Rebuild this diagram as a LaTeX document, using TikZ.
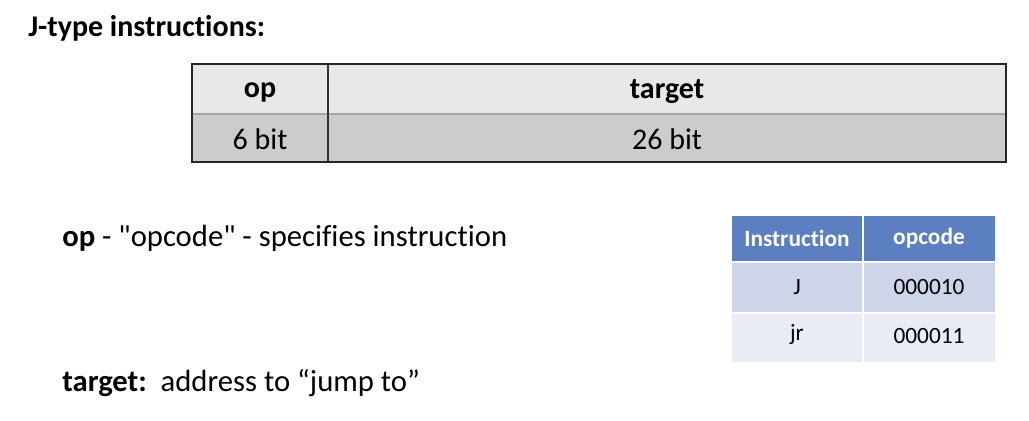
\documentclass[tikz,border=0pt]{standalone}
\usepackage{fontspec}
\setmainfont{Carlito}[Ligatures={NoCommon}]
\begin{document}
\begin{tikzpicture}[x=0.75pt,y=-0.75pt,
  cell/.style={inner sep=0pt, anchor=center},
  fmttop/.style={fill=gray!18},
  fmtbot/.style={fill=gray!40},
  hdr/.style={fill={rgb,255:red,91;green,127;blue,193}},
  rowa/.style={fill={rgb,255:red,207;green,213;blue,232}},
  rowb/.style={fill={rgb,255:red,233;green,235;blue,245}},
  bigtxt/.style={cell, font=\fontsize{22.5}{26}\selectfont},
  smalltxt/.style={cell, font=\fontsize{17.5}{20}\selectfont},
  body/.style={anchor=west, inner sep=0pt, font=\fontsize{23}{27}\selectfont}]
\useasboundingbox (0,0) rectangle (1029,421);
\fill[white] (0,0) rectangle (1029,421);

% title
\node[anchor=west, inner sep=0pt, font=\fontsize{22.5}{26}\selectfont\bfseries] (title) at (28,28) {J-type instructions:};

% instruction format table
\fill[fmttop] (192,64) rectangle (1006,114);
\fill[fmtbot] (192,114) rectangle (1006,162);
\draw[gray!70, line width=1pt] (192,114) -- (1006,114);
\draw[black!80, line width=1.2pt] (328,64) -- (328,162);
\draw[black!85, line width=1.6pt] (192,64) rectangle (1006,162);
\node[bigtxt, font=\fontsize{22.5}{26}\selectfont\bfseries] (op) at (260,92) {op};
\node[bigtxt, font=\fontsize{22.5}{26}\selectfont\bfseries] (tg) at (667,92) {target};
\node[bigtxt] (opw) at (260,139) {6 bit};
\node[bigtxt] (tgw) at (667,139) {26 bit};

% field descriptions
\node[body] (opdesc) at (62,238) {\textbf{op} - \textquotedbl opcode\textquotedbl\ - specifies instruction};
\node[body] (tgdesc) at (62,383) {\textbf{target:}\ \ address to “jump to”};

% opcode table
\fill[hdr] (732,216) rectangle (863,262);
\fill[hdr] (863,216) rectangle (995,262);
\fill[rowa] (732,262) rectangle (995,313);
\fill[rowb] (732,313) rectangle (995,362);
\draw[white, line width=1.5pt] (732,262) -- (995,262);
\draw[white, line width=1.5pt] (732,313) -- (995,313);
\draw[white, line width=1.5pt] (863,216) -- (863,362);
\node[smalltxt, text=white, font=\fontsize{17.5}{20}\selectfont\bfseries] (h1) at (797,238) {Instruction};
\node[smalltxt, text=white, font=\fontsize{17.5}{20}\selectfont\bfseries] (h2) at (929,238) {opcode};
\node[smalltxt] (i1) at (797,287) {J};
\node[smalltxt] (c1) at (929,287) {000010};
\node[smalltxt] (i2) at (797,334) {jr};
\node[smalltxt] (c2) at (929,336) {000011};
\end{tikzpicture}
\end{document}
